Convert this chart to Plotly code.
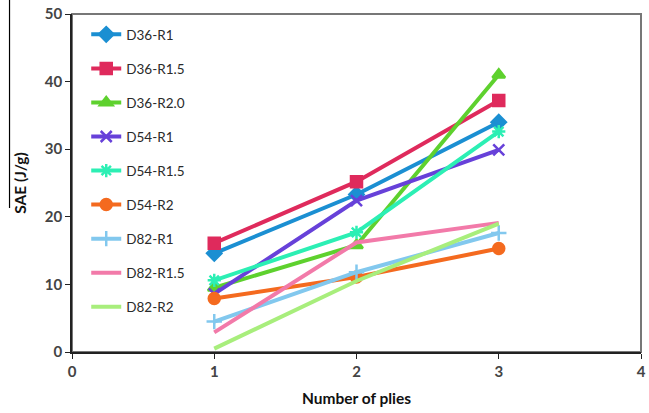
import plotly.graph_objects as go

plies = [1, 2, 3]
names = ["D36-R1", "D36-R1.5", "D36-R2.0", "D54-R1", "D54-R1.5", "D54-R2",
         "D82-R1", "D82-R1.5", "D82-R2"]
values = {
    "D36-R1":   [14.6, 23.3, 34.0],
    "D36-R1.5": [16.1, 25.2, 37.2],
    "D36-R2.0": [9.5, 15.8, 41.0],
    "D54-R1":   [8.6, 22.4, 29.9],
    "D54-R1.5": [10.6, 17.7, 32.6],
    "D54-R2":   [7.9, 11.1, 15.3],
    "D82-R1":   [4.5, 11.8, 17.6],
    "D82-R1.5": [2.9, 16.2, 19.1],
    "D82-R2":   [0.5, 10.5, 19.0],
}
colors = ["#1b8fd2", "#df2a5c", "#5ed12e", "#6741d9", "#2cefb4", "#f46a1f",
          "#82c8ee", "#f27aa9", "#a8ee7c"]
symbols = ["diamond", "square", "triangle-up", "x-thin", "asterisk", "circle",
           "cross-thin", None, None]
x_ticks = [0, 1, 2, 3, 4]
y_ticks = [0, 10, 20, 30, 40, 50]

fig = go.Figure()
for i, n in enumerate(names):
    sym = symbols[i]
    mode = "lines+markers" if sym else "lines"
    marker = dict(symbol=sym, size=11, color=colors[i],
                  line=dict(width=2.5, color=colors[i])) if sym else None
    fig.add_trace(go.Scatter(x=plies, y=values[n], name=n, mode=mode,
                             line=dict(color=colors[i], width=4),
                             marker=marker, legendgroup=n))

font_family = "Lato, 'Open Sans', sans-serif"
fig.update_layout(
    width=649, height=413,
    margin=dict(l=72, r=3, t=14, b=61),
    paper_bgcolor="white", plot_bgcolor="white",
    showlegend=True,
    legend=dict(x=0.025, y=0.985, xanchor="left", yanchor="top",
                bgcolor="rgba(0,0,0,0)", tracegroupgap=13.5,
                font=dict(family=font_family, size=13.5, color="#2a2a2a")),
    font=dict(family=font_family),
)
fig.update_xaxes(range=[0, 4], tickvals=x_ticks, showgrid=False, zeroline=False,
                 showline=True, linecolor="#222222", linewidth=1.5,
                 ticks="outside", ticklen=5, tickcolor="#222222",
                 ticklabeloverflow="allow",
                 tickfont=dict(family=font_family, size=15, color="#444444", weight="bold"),
                 title=dict(text="<b>Number of plies</b>", standoff=14,
                            font=dict(family=font_family, size=15.5, color="#111111")))
fig.update_yaxes(range=[0, 50], tickvals=y_ticks, showgrid=False, zeroline=False,
                 showline=True, linecolor="#222222", linewidth=1.5,
                 ticks="outside", ticklen=5, tickcolor="#222222",
                 tickfont=dict(family=font_family, size=15, color="#444444", weight="bold"),
                 title=dict(text="<b>SAE (J/g)</b>", standoff=14,
                            font=dict(family=font_family, size=15.5, color="#111111")))
fig.add_shape(type="rect", xref="paper", yref="paper", x0=0, y0=0, x1=1, y1=1,
              line=dict(color="#777777", width=2), layer="below")
fig.add_shape(type="line", xref="paper", yref="paper", x0=-0.1098, x1=-0.1098,
              y0=0.426, y1=1.045, line=dict(color="black", width=1.2))

fig.write_html("out.html")
